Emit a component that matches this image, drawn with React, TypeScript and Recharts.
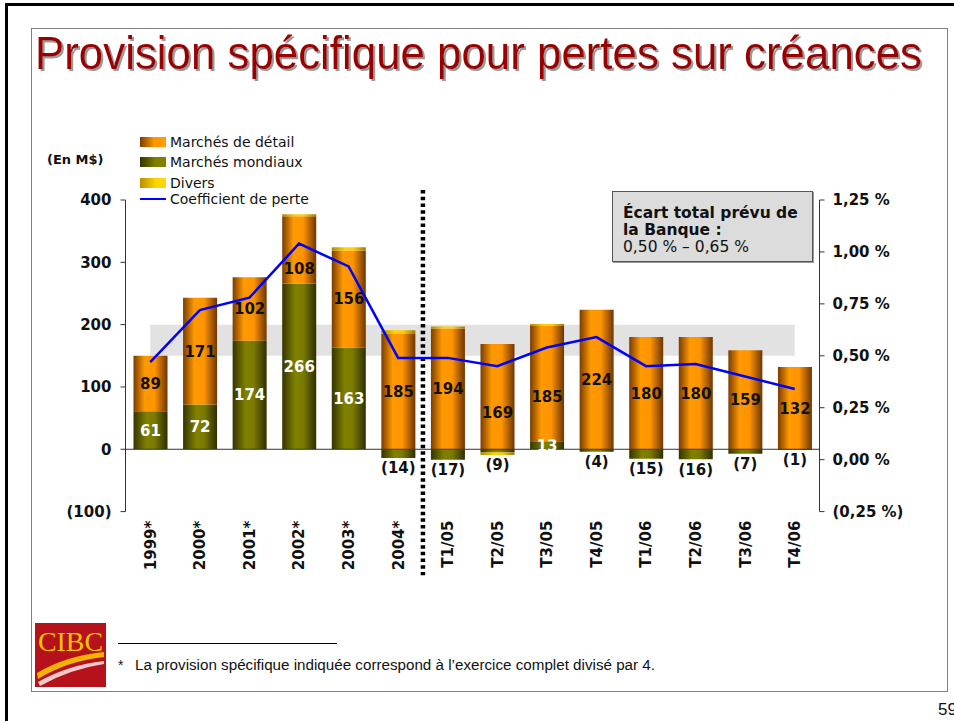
import React from 'react';
import {
  ComposedChart, Bar, Line, XAxis, YAxis, ReferenceLine, ReferenceArea, LabelList,
} from 'recharts';

const categories = ['1999*', '2000*', '2001*', '2002*', '2003*', '2004*', 'T1/05', 'T2/05', 'T3/05', 'T4/05', 'T1/06', 'T2/06', 'T3/06', 'T4/06'];
const detail = [89, 171, 102, 108, 156, 185, 194, 169, 185, 224, 180, 180, 159, 132];
const mondiaux = [61, 72, 174, 266, 163, -14, -17, -5, 13, -4, -15, -16, -7, -1];
const divers = [0, 0, 0, 3, 5, 6, 3, -4, 3, 0, 0, 0, 0, 0];
const coefficient = [0.47, 0.72, 0.78, 1.04, 0.93, 0.49, 0.49, 0.45, 0.54, 0.59, 0.45, 0.46, 0.40, 0.34];
const leftTicks = [-100, 0, 100, 200, 300, 400];
const rightTicks = [-0.25, 0, 0.25, 0.5, 0.75, 1, 1.25];
const bandLow = 0.5;
const bandHigh = 0.65;
// separator between annual and quarterly figures (between index 5 and 6)
const separatorAt = 5.5;

const data = categories.map((c, i) => ({
  cat: c,
  i,
  mondiaux: mondiaux[i],
  detail: detail[i],
  divers: divers[i],
  coef: coefficient[i],
}));

const FONT = "'DejaVu Sans', Verdana, sans-serif";
const NARROW = "'Liberation Sans Narrow', 'Liberation Sans', Arial, sans-serif";

// label nudges (style) for a few détail labels moved off-centre in the original
const detailNudge: Record<string, number> = { '2002*': 19, 'T2/05': 16, 'T3/05': 13 };

const fmtLeft = (v: number) => (v < 0 ? `(${Math.abs(v)})` : `${v}`);
const fmtRight = (v: number) => {
  const s = Math.abs(v).toFixed(2).replace('.', ',');
  return v < 0 ? `(${s} %)` : `${s} %`;
};

function getBox(props: any) {
  const vb = props.viewBox && props.viewBox.width !== undefined ? props.viewBox : props;
  const x = Number(vb.x), y = Number(vb.y), w = Number(vb.width), h = Number(vb.height);
  return { x, y, w, h, top: Math.min(y, y + h), bot: Math.max(y, y + h) };
}

const MondiauxLabel = (props: any) => {
  const idx = props.index;
  const v = mondiaux[idx];
  if (v === undefined || v === 0) return null;
  const { x, w, h, top, bot } = getBox(props);
  const cx = x + w / 2;
  if (v > 0) {
    return (
      <text x={cx} y={(top + bot) / 2} dy="0.36em" textAnchor="middle" fill="#ffffff"
        fontFamily={FONT} fontWeight="bold" fontSize={15}>{v}</text>
    );
  }
  const negTotal = v + (divers[idx] < 0 ? divers[idx] : 0);
  const ppu = Math.abs(h) / Math.abs(v);
  const bottom = top + Math.abs(negTotal) * ppu;
  return (
    <text x={cx} y={bottom + 4} dy="0.75em" textAnchor="middle" fill="#111"
      fontFamily={FONT} fontWeight="bold" fontSize={15}>{`(${Math.abs(negTotal)})`}</text>
  );
};

const DetailLabel = (props: any) => {
  const idx = props.index;
  const v = detail[idx];
  const { x, w, top, bot } = getBox(props);
  const nudge = detailNudge[categories[idx]] || 0;
  return (
    <text x={x + w / 2} y={(top + bot) / 2 + nudge} dy="0.36em" textAnchor="middle" fill="#111"
      fontFamily={FONT} fontWeight="bold" fontSize={15}>{v}</text>
  );
};

const XTick = (props: any) => {
  const { x, y, payload } = props;
  const ax = x + 5.5;
  return (
    <text x={ax} y={y} transform={`rotate(-90 ${ax} ${y})`} textAnchor="end" fill="#111"
      fontFamily={FONT} fontWeight="bold" fontSize={15}>{payload.value}</text>
  );
};

const axisTick = { fill: '#111', fontSize: 15, fontWeight: 'bold', fontFamily: FONT } as any;

const legendItems = [
  { label: 'Marchés de détail', bg: 'linear-gradient(to right, #7a3d00, #ff9900 55%, #ff9a00)', top: 137 },
  { label: 'Marchés mondiaux', bg: 'linear-gradient(to right, #333300, #808000 60%, #808000)', top: 157 },
  { label: 'Divers', bg: 'linear-gradient(to right, #b89000, #ffd400 60%, #ffd800)', top: 178 },
];

function Logo() {
  return (
    <svg width={71} height={64} style={{ position: 'absolute', left: 35, top: 623 }}>
      <rect x={0} y={0} width={71} height={64} fill="#b5121b" />
      <text x={3} y={28} fontFamily="'Liberation Serif', 'DejaVu Serif', serif" fontSize={28}
        fill="#f7c300" textLength={65} lengthAdjust="spacingAndGlyphs">CIBC</text>
      <path d="M2,50 Q30,33 69,29 L69,34 Q32,38 3,56 Z" fill="#f5b400" />
      <path d="M3,59 Q33,42 69,38 L69,41 Q35,46 5,63 Z" fill="#f4c9c9" />
    </svg>
  );
}

export default function App() {
  return (
    <div style={{ position: 'absolute', left: 0, top: 0, width: 954, height: 721, background: '#fff', overflow: 'hidden', fontFamily: FONT }}>
      {/* outer black frame */}
      <div style={{ position: 'absolute', left: 5, top: 3, width: 949, height: 3, background: '#000' }} />
      <div style={{ position: 'absolute', left: 5, top: 3, width: 3, height: 718, background: '#000' }} />
      {/* inner gray frame */}
      <div style={{ position: 'absolute', left: 31, top: 28, width: 917, height: 664, border: '1px solid #808080', boxSizing: 'border-box' }} />

      {/* title */}
      <svg width={954} height={100} style={{ position: 'absolute', left: 0, top: 0 }}>
        <defs>
          <filter id="tshadow" x="-5%" y="-20%" width="110%" height="150%">
            <feDropShadow dx="2" dy="2" stdDeviation="0.4" floodColor="#9a9a9a" floodOpacity="1" />
          </filter>
        </defs>
        <text x={35} y={69} fontFamily={NARROW} fontSize={46} fill="#990000" textLength={887}
          lengthAdjust="spacingAndGlyphs" filter="url(#tshadow)">Provision spécifique pour pertes sur créances</text>
      </svg>

      <div style={{ position: 'absolute', left: 0, top: 0 }}>
        <ComposedChart width={954} height={721} data={data} stackOffset="sign"
          margin={{ top: 200, right: 34.5, bottom: 139.4, left: 65.5 }}>
          <defs>
            <linearGradient id="gOrange" x1="0" y1="0" x2="1" y2="0">
              <stop offset="0%" stopColor="#7a3c00" />
              <stop offset="33%" stopColor="#ff9a00" />
              <stop offset="62%" stopColor="#ff9400" />
              <stop offset="100%" stopColor="#6e3600" />
            </linearGradient>
            <linearGradient id="gGreen" x1="0" y1="0" x2="1" y2="0">
              <stop offset="0%" stopColor="#343400" />
              <stop offset="38%" stopColor="#808000" />
              <stop offset="62%" stopColor="#7a7a00" />
              <stop offset="100%" stopColor="#2e2e00" />
            </linearGradient>
            <linearGradient id="gYellow" x1="0" y1="0" x2="1" y2="0">
              <stop offset="0%" stopColor="#b08800" />
              <stop offset="40%" stopColor="#ffd400" />
              <stop offset="65%" stopColor="#ffcc00" />
              <stop offset="100%" stopColor="#a07800" />
            </linearGradient>
          </defs>
          <XAxis dataKey="cat" xAxisId={0} axisLine={false} tickLine={false} tickSize={0} tickMargin={9}
            interval={0} height={70} tick={<XTick />} />
          <XAxis dataKey="i" xAxisId="idx" type="number" domain={[-0.5, categories.length - 0.5]} hide />
          <YAxis yAxisId="left" orientation="left" domain={[-100, 400]} ticks={leftTicks} width={60}
            tickFormatter={fmtLeft} tick={axisTick} tickSize={5} tickMargin={9}
            axisLine={{ stroke: '#333' }} tickLine={{ stroke: '#333' }} allowDataOverflow />
          <YAxis yAxisId="right" orientation="right" domain={[-0.25, 1.25]} ticks={rightTicks} width={100}
            tickFormatter={fmtRight} tick={axisTick} tickSize={5} tickMargin={8}
            axisLine={{ stroke: '#333' }} tickLine={{ stroke: '#333' }} allowDataOverflow />
          <ReferenceArea yAxisId="right" xAxisId="idx" x1={0} x2={categories.length - 1}
            y1={bandLow} y2={bandHigh} fill="#e2e2e2" fillOpacity={1} stroke="none" zIndex={-10} />
          <Bar yAxisId="left" xAxisId={0} dataKey="mondiaux" stackId="s" fill="url(#gGreen)" barSize={34} isAnimationActive={false}>
            <LabelList dataKey="mondiaux" content={<MondiauxLabel />} />
          </Bar>
          <Bar yAxisId="left" xAxisId={0} dataKey="detail" stackId="s" fill="url(#gOrange)" barSize={34} isAnimationActive={false}>
            <LabelList dataKey="detail" content={<DetailLabel />} />
          </Bar>
          <Bar yAxisId="left" xAxisId={0} dataKey="divers" stackId="s" fill="url(#gYellow)" barSize={34} isAnimationActive={false} />
          <ReferenceLine yAxisId="left" xAxisId={0} y={0} stroke="#333" strokeWidth={1} />
          <ReferenceLine yAxisId="left" xAxisId="idx" ifOverflow="visible"
            segment={[{ x: separatorAt, y: 416 }, { x: separatorAt, y: -202 }]}
            stroke="#000" strokeWidth={4.5} strokeDasharray="3.5 3.2" />
          <Line yAxisId="right" xAxisId={0} type="linear" dataKey="coef" stroke="#0000ff" strokeWidth={2.5}
            dot={false} activeDot={false} isAnimationActive={false} />
        </ComposedChart>
      </div>

      {/* unit label */}
      <div style={{ position: 'absolute', left: 47, top: 151, fontSize: 13, fontWeight: 'bold', color: '#111', lineHeight: '18px' }}>(En M$)</div>

      {/* legend */}
      {legendItems.map((it) => (
        <React.Fragment key={it.label}>
          <div style={{ position: 'absolute', left: 140, top: it.top, width: 26, height: 10, background: it.bg }} />
          <div style={{ position: 'absolute', left: 170, top: it.top - 4, fontSize: 14, lineHeight: '18px', color: '#111', whiteSpace: 'nowrap' }}>{it.label}</div>
        </React.Fragment>
      ))}
      <div style={{ position: 'absolute', left: 140, top: 198, width: 26, height: 2, background: '#0000ff' }} />
      <div style={{ position: 'absolute', left: 170, top: 190, fontSize: 14, lineHeight: '18px', color: '#111', whiteSpace: 'nowrap' }}>Coefficient de perte</div>

      {/* text box */}
      <div style={{ position: 'absolute', left: 612, top: 191, width: 201, height: 71, boxSizing: 'border-box', background: '#dcdcdc', border: '1.5px solid #555', boxShadow: '1px 1px 0 #999', padding: '13px 0 0 10px', fontSize: 15.5, lineHeight: '17px', color: '#111' }}>
        <div style={{ fontWeight: 'bold', whiteSpace: 'nowrap' }}>Écart total prévu de</div>
        <div style={{ fontWeight: 'bold', whiteSpace: 'nowrap' }}>la Banque :</div>
        <div style={{ whiteSpace: 'nowrap' }}>0,50 % – 0,65 %</div>
      </div>

      {/* footnote */}
      <Logo />
      <div style={{ position: 'absolute', left: 118, top: 643, width: 219, height: 1, background: '#000' }} />
      <svg width={600} height={24} style={{ position: 'absolute', left: 110, top: 655 }}>
        <text x={8} y={15} fontFamily={NARROW} fontSize={14} fill="#111">*</text>
        <text x={25} y={15} fontFamily={NARROW} fontSize={14} fill="#111" textLength={520} lengthAdjust="spacingAndGlyphs">La provision spécifique indiquée correspond à l’exercice complet divisé par 4.</text>
      </svg>

      {/* page number */}
      <div style={{ position: 'absolute', left: 938, top: 700, fontFamily: NARROW, fontSize: 17, color: '#111', lineHeight: '20px' }}>59</div>
    </div>
  );
}
